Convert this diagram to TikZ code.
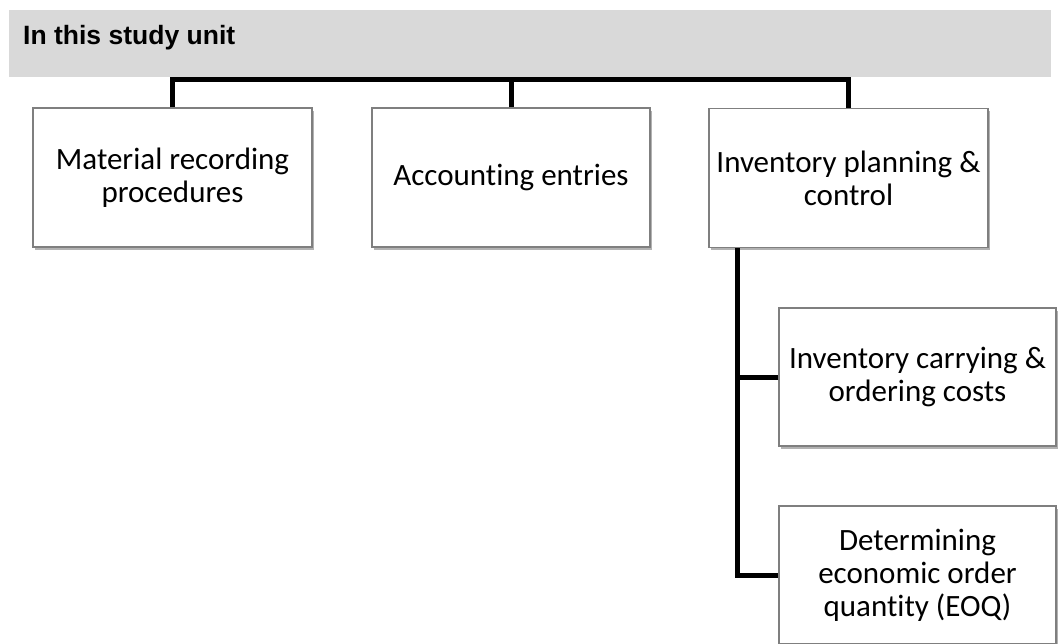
\documentclass[tikz,border=0pt]{standalone}
\usepackage{fontspec}
\setmainfont{Carlito}[Ligatures=NoCommon]
\newfontfamily\titlefont{Liberation Sans}
\usetikzlibrary{shadows}
\definecolor{bandgray}{HTML}{D9D9D9}
\definecolor{boxedge}{HTML}{7F7F7F}
\tikzset{
  unitbox/.style={draw=boxedge, line width=1.3pt, fill=white, align=center,
    minimum width=279pt, minimum height=139pt, inner sep=0pt,
    font=\fontsize{31}{33}\selectfont,
    drop shadow={shadow xshift=1.5pt, shadow yshift=-2.5pt, fill=black, opacity=0.3}},
  conn/.style={line width=5pt, black}
}
\begin{document}
\begin{tikzpicture}[x=1pt, y=-1pt]
\clip (0,0) rectangle (1058,643);
\fill[white] (0,0) rectangle (1058,643);
\fill[bandgray] (9,10) rectangle (1051,77);
\node[anchor=base west, inner sep=0pt, font=\titlefont\bfseries\fontsize{26.5}{30}\selectfont] (title) at (23,44) {In this study unit};
\coordinate (bus) at (0,79.5);
\coordinate (spine) at (737,0);
\node[unitbox] (b1) at (172.5,177.5) {Material recording\\procedures};
\node[unitbox, minimum width=278pt] (b2) at (511,177.5) {Accounting entries};
\node[unitbox] (b3) at (848.5,178) {Inventory planning \&\\control};
\node[unitbox, minimum width=277pt, minimum height=138pt] (b4) at (917.5,377) {Inventory carrying \&\\ordering costs};
\node[unitbox, minimum width=277pt, minimum height=138pt] (b5) at (917.5,575) {Determining\\economic order\\quantity (EOQ)};
\draw[conn] (b1.north) -- (b1.north |- bus) -- (b3.north |- bus) -- (b3.north);
\draw[conn] (b2.north) -- (b2.north |- bus);
\draw[conn] (b3.south -| spine) |- (b5.west);
\draw[conn] (b4.west) -- (b4.west -| spine);
\end{tikzpicture}
\end{document}
